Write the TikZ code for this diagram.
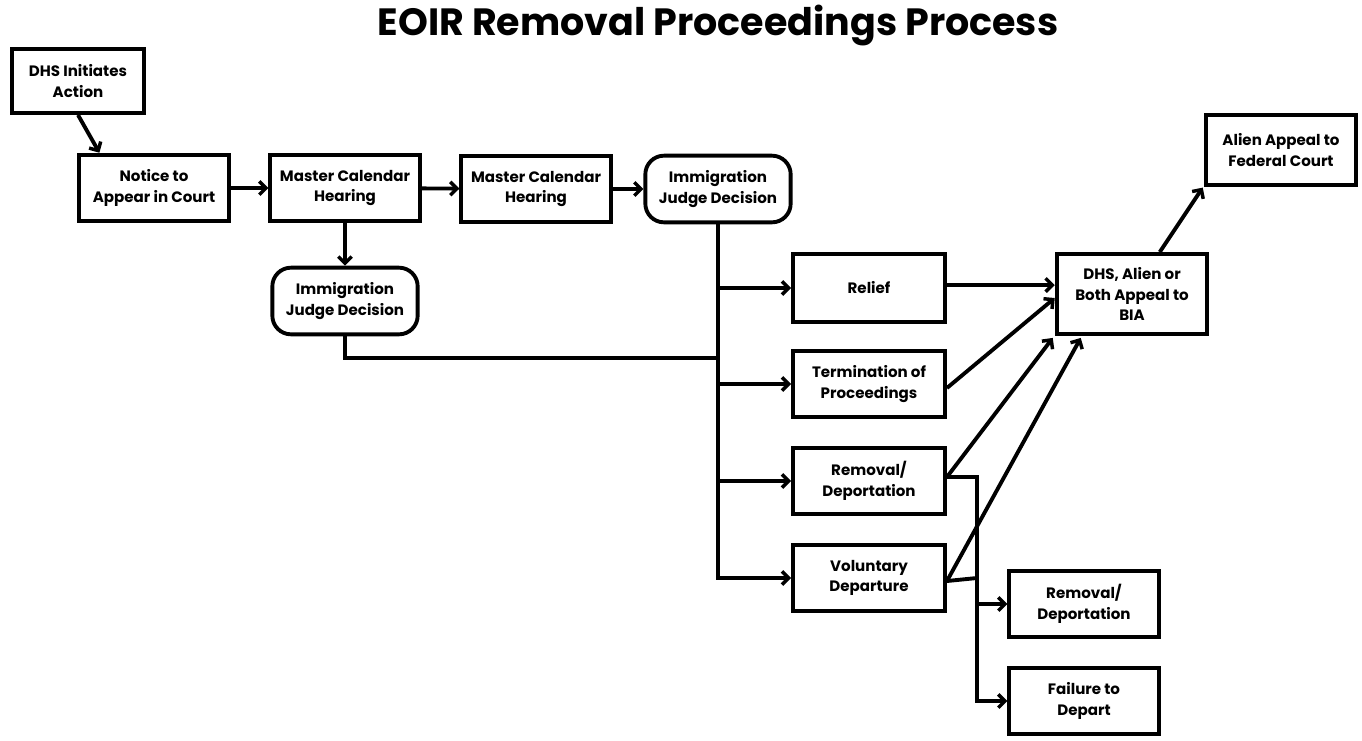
\documentclass[tikz,border=0pt]{standalone}
\usepackage{fontspec}
\setmainfont{Poppins}
\usetikzlibrary{arrows.meta,calc}
\begin{document}
\begin{tikzpicture}[x=0.75pt,y=-0.75pt,
  box/.style={draw, line width=2.9pt, minimum width=112pt, minimum height=50pt, align=center, inner sep=1pt, font=\bfseries\fontsize{11.3}{15.5}\selectfont},
  rbox/.style={box, rounded corners=14pt, minimum width=109pt},
  conn/.style={line width=2.9pt},
  arr/.style={conn, -{Straight Barb[length=5pt,width=10pt,line width=2.6pt]}}]
\useasboundingbox (0,0) rectangle (1362,740);
\node[font=\bfseries\fontsize{28.5}{32}\selectfont] (title) at (718,26) {EOIR Removal Proceedings Process};
\node[box, minimum width=99pt, minimum height=48pt] (dhs) at (78,81) {DHS Initiates\\Action};
\node[box] (notice) at (154,188) {Notice to\\Appear in Court};
\node[box] (mch1) at (345,188) {Master Calendar\\Hearing};
\node[box] (mch2) at (536,189) {Master Calendar\\Hearing};
\node[rbox] (ijd2) at (718,189) {Immigration\\Judge Decision};
\node[rbox] (ijd1) at (345,301) {Immigration\\Judge Decision};
\node[box, minimum width=114pt, minimum height=51pt] (relief) at (869,288) {Relief};
\node[box, minimum width=114pt] (term) at (869,384) {Termination of\\Proceedings};
\node[box, minimum width=114pt] (rem1) at (869,481) {Removal/\\Deportation};
\node[box, minimum width=114pt] (vol) at (869,578) {Voluntary\\Departure};
\node[box, minimum height=60pt, minimum width=113pt] (bia) at (1132,294) {DHS, Alien or\\Both Appeal to\\BIA};
\node[box, minimum height=52pt, minimum width=113pt] (fed) at (1281,150) {Alien Appeal to\\Federal Court};
\node[box] (rem2) at (1084,604) {Removal/\\Deportation};
\node[box] (fail) at (1084,701) {Failure to\\Depart};
% connectors
\draw[arr] (dhs.south) -- ($(notice.north west)+(22,0)$);
\draw[arr] (notice) -- (mch1);
\draw[arr] (mch1) -- (mch2);
\draw[arr] (mch2) -- (ijd2);
\draw[arr] (mch1) -- (ijd1);
\coordinate (j) at (718,358);
\draw[conn] (ijd1.south) |- (j);
\draw[conn] (ijd2.south) -- (ijd2.south |- vol.west);
\draw[arr] (ijd2.south |- relief.west) -- (relief.west);
\draw[arr] (ijd2.south |- term.west) -- (term.west);
\draw[arr] (ijd2.south |- rem1.west) -- (rem1.west);
\draw[arr,line join=miter] ($(ijd2.south |- vol.west)+(0,-1.5)$) |- (vol.west);
\draw[arr] ($(relief.east)+(0,-3)$) -- ($(bia.west)+(0,-9)$);
\draw[arr] ($(term.east)+(0,4)$) -- ($(bia.west)+(0,4)$);
\draw[arr] ($(rem1.east)+(0,-4)$) -- ($(bia.south west)+(-2,2)$);
\draw[arr] ($(vol.east)+(0,3)$) -- ($(bia.south west)+(26,2)$);
\draw[arr] ($(bia.north west)+(105,0)$) -- ($(fed.south west)+(-1,1)$);
\coordinate (s) at (977,477);
\draw[arr,line join=miter] ($(rem1.east)+(0,-4)$) -- (s) |- (fail.west);
\draw[conn] ($(vol.east)+(0,3)$) -- (s |- vol.east);
\draw[arr] (s |- rem2.west) -- (rem2.west);
\end{tikzpicture}
\end{document}
